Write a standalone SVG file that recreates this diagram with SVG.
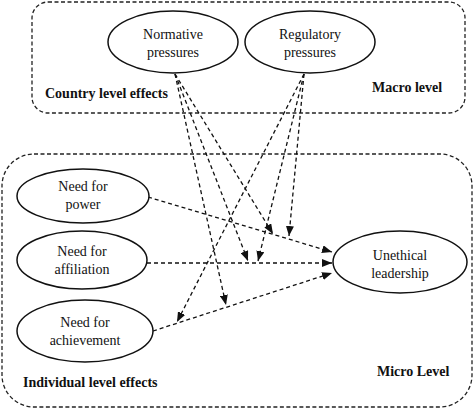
<svg xmlns="http://www.w3.org/2000/svg" width="474" height="410" viewBox="0 0 474 410">
<defs>
<style>
.box{fill:none;stroke:#222;stroke-width:1.3;stroke-dasharray:4 2.5}
.node{fill:#fff;stroke:#111;stroke-width:1.5}
.lbl{font-family:"Liberation Serif","Times New Roman",serif;font-size:14px;fill:#111;text-anchor:middle}
.hdr{font-family:"Liberation Serif","Times New Roman",serif;font-size:14px;font-weight:bold;fill:#111}
.edge{fill:none;stroke:#111;stroke-width:1.3;stroke-dasharray:4 3;marker-end:url(#ah)}
</style>
<marker id="ah" markerUnits="userSpaceOnUse" markerWidth="10" markerHeight="8" viewBox="0 0 10 8" refX="10" refY="4" orient="auto">
<path d="M0,0 L10,4 L0,8 Z" fill="#111"/>
</marker>
</defs>
<rect width="474" height="410" fill="#fff"/>
<g id="macro">
<rect class="box" x="32" y="2" width="433" height="111" rx="16"/>
<text class="hdr" x="45" y="98">Country level effects</text>
<text class="hdr" x="372" y="92">Macro level</text>
</g>
<g id="micro">
<rect class="box" x="2" y="154" width="470" height="253" rx="32"/>
<text class="hdr" x="23" y="387">Individual level effects</text>
<text class="hdr" x="377" y="376">Micro Level</text>
</g>
<g id="connectors">
<line class="edge" x1="175" y1="74" x2="273" y2="234"/>
<line class="edge" x1="175" y1="74" x2="248" y2="261"/>
<line class="edge" x1="175" y1="74" x2="226" y2="305"/>
<line class="edge" x1="304" y1="74" x2="289" y2="236"/>
<line class="edge" x1="304" y1="74" x2="258" y2="261"/>
<line class="edge" x1="304" y1="74" x2="177" y2="322"/>
<line class="edge" x1="148" y1="197" x2="332" y2="252"/>
<line class="edge" x1="147" y1="263" x2="332" y2="263"/>
<line class="edge" x1="153" y1="331" x2="332" y2="273"/>
</g>
<g id="normative">
<ellipse class="node" cx="173" cy="42" rx="65" ry="31"/>
<text class="lbl" x="173" y="39">Normative</text>
<text class="lbl" x="173" y="57">pressures</text>
</g>
<g id="regulatory">
<ellipse class="node" cx="310" cy="42" rx="65" ry="31"/>
<text class="lbl" x="310" y="39">Regulatory</text>
<text class="lbl" x="310" y="57">pressures</text>
</g>
<g id="power">
<ellipse class="node" cx="83" cy="196" rx="66" ry="27"/>
<text class="lbl" x="83" y="191">Need for</text>
<text class="lbl" x="83" y="209">power</text>
</g>
<g id="affiliation">
<ellipse class="node" cx="82" cy="260" rx="65" ry="29"/>
<text class="lbl" x="82" y="256">Need for</text>
<text class="lbl" x="82" y="274">affiliation</text>
</g>
<g id="achievement">
<ellipse class="node" cx="85" cy="331" rx="68" ry="31"/>
<text class="lbl" x="85" y="327">Need for</text>
<text class="lbl" x="85" y="345">achievement</text>
</g>
<g id="unethical">
<ellipse class="node" cx="400" cy="262" rx="67" ry="31"/>
<text class="lbl" x="400" y="260">Unethical</text>
<text class="lbl" x="400" y="278">leadership</text>
</g>
</svg>
